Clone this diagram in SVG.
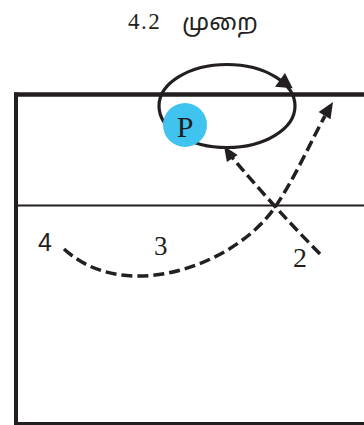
<svg xmlns="http://www.w3.org/2000/svg" width="364" height="425" viewBox="0 0 364 425">
<style>
.frame{stroke:#231f20;fill:none}
.dash{stroke:#231f20;fill:none;stroke-width:3.5;stroke-dasharray:11 5}
.arrow{fill:#231f20}
.serif{font-family:"Liberation Serif","Times New Roman",serif;fill:#231f20}
.sans{font-family:"Liberation Sans",Arial,sans-serif;fill:#231f20}
</style>
<rect width="364" height="425" fill="#ffffff"/>
<g id="title">
<text class="serif" x="128" y="29" font-size="23" letter-spacing="1.5">4.2</text>
<text x="182" y="30" font-size="24" font-family="'Noto Sans Tamil','Noto Serif Tamil','Lohit Tamil','Latha',serif" fill="#231f20">முறை</text>
</g>
<g id="court">
<line class="frame" x1="14" y1="94.5" x2="364" y2="94.5" stroke-width="4.5"/>
<line class="frame" x1="16" y1="92.5" x2="16" y2="425" stroke-width="4"/>
<line class="frame" x1="14" y1="423.5" x2="364" y2="423.5" stroke-width="3"/>
<line class="frame" x1="16" y1="205.5" x2="364" y2="205.5" stroke-width="2"/>
</g>
<g id="connectors">
<ellipse class="frame" cx="227" cy="106" rx="68" ry="41.5" stroke-width="3.2"/>
<polygon class="arrow" points="275,86.7 285,73 292.7,88.3"/>
<path class="dash" d="M320,254 Q272,205 231,156"/>
<polygon class="arrow" points="224,146 237.7,154.9 226.9,162.1"/>
<path class="dash" d="M64,249 C125,305 233,265 273,210 C293,182.5 314,135 325,116"/>
<polygon class="arrow" points="333,102 330.5,119.3 318.6,111.9"/>
</g>
<g id="nodeP">
<circle cx="185" cy="125" r="22" fill="#40c4ef"/>
<text class="serif" x="185" y="137" font-size="30" text-anchor="middle">P</text>
</g>
<g id="labels">
<text class="sans" x="38" y="251" font-size="25">4</text>
<text class="serif" x="154" y="255" font-size="27">3</text>
<text class="serif" x="293" y="267" font-size="28">2</text>
</g>
</svg>
